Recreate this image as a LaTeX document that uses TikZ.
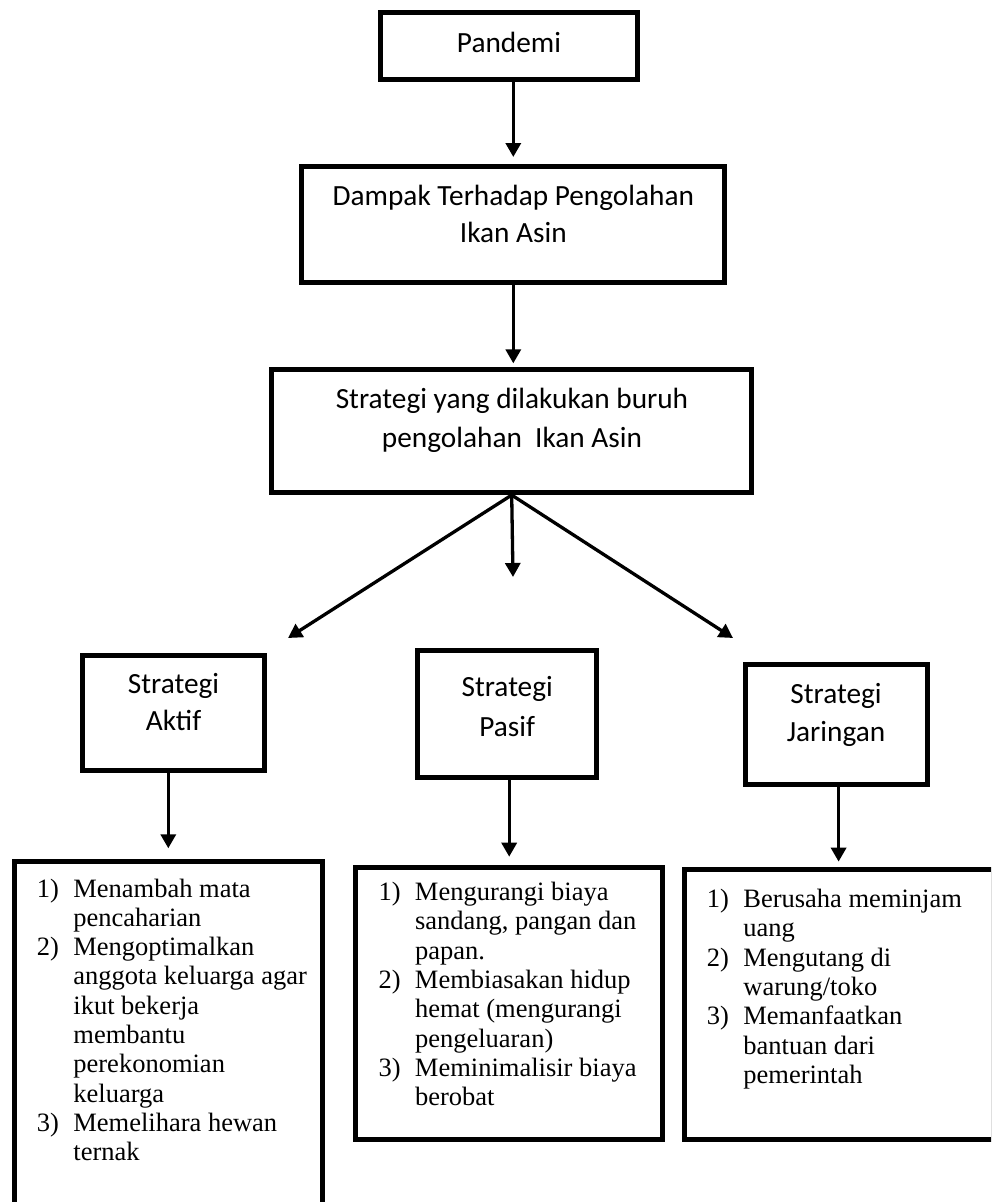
\documentclass[tikz,border=0pt]{standalone}
\usepackage{fontspec}
\setmainfont{Liberation Serif}
\newfontfamily\calfont{Carlito}
\usetikzlibrary{arrows.meta}
\newcommand{\li}[2]{\makebox[36.5pt][l]{#1}#2}
\newcommand{\lc}[1]{\hspace*{36.5pt}#1}
\begin{document}
\begin{tikzpicture}[x=1pt,y=-1pt,
  frame/.style={draw=black, line width=5pt, inner sep=0pt},
  arr/.style={line width=3.3pt, -{Triangle[length=14pt,width=15pt]}},
  sans/.style={anchor=base, inner sep=0pt, font=\calfont\fontsize{29.3}{37}\selectfont},
  serif/.style={anchor=base west, inner sep=0pt, font=\fontsize{26.5}{29.3}\selectfont}]
\clip (0,0) rectangle (991,1202);
\fill[white] (0,0) rectangle (991,1202);

% frames
\node[frame, minimum width=257pt, minimum height=67pt] (pandemi) at (509,46) {};
\node[frame, minimum width=423pt, minimum height=116pt] (dampak) at (513.3,224.5) {};
\node[frame, minimum width=480pt, minimum height=122.7pt] (strategi) at (511.7,431.2) {};
\node[frame, minimum width=181.7pt, minimum height=114.4pt] (aktif) at (173.3,713) {};
\node[frame, minimum width=179.3pt, minimum height=127pt] (pasif) at (507.2,714) {};
\node[frame, minimum width=182.3pt, minimum height=120pt] (jaringan) at (836.3,724.2) {};
\node[frame, minimum width=308.3pt, minimum height=368.2pt] (aktiflist) at (168.3,1045.9) {};
\node[frame, minimum width=306.7pt, minimum height=272pt] (pasiflist) at (509.2,1003.5) {};
\node[frame, minimum width=308.8pt, minimum height=270.3pt] (jarlist) at (838.6,1004.3) {};

% box texts
\node[sans] (tpandemi) at (509,52) {Pandemi};
\node[sans] (tdampak) at (513.3,205) {\parbox[t]{420pt}{\centering Dampak Terhadap Pengolahan\\Ikan Asin}};
\node[sans] (tstrategi) at (512,408) {\parbox[t]{470pt}{\centering\fontsize{29.3}{39}\selectfont Strategi yang dilakukan buruh\\pengolahan\ \ Ikan Asin}};
\node[sans] (taktif) at (173.5,693.3) {\parbox[t]{175pt}{\centering Strategi\\Aktif}};
\node[sans] (tpasif) at (507.2,696) {\parbox[t]{175pt}{\centering\fontsize{29.3}{40}\selectfont Strategi\\Pasif}};
\node[sans] (tjaringan) at (836,703.3) {\parbox[t]{175pt}{\centering\fontsize{29.3}{38.4}\selectfont Strategi\\Jaringan}};

% list texts
\node[serif] (taktiflist) at (36.7,897) {\parbox[t]{285pt}{%
\li{1)}{Menambah mata}\\
\lc{pencaharian}\\
\li{2)}{Mengoptimalkan}\\
\lc{anggota keluarga agar}\\
\lc{ikut bekerja}\\
\lc{membantu}\\
\lc{perekonomian}\\
\lc{keluarga}\\
\li{3)}{Memelihara hewan}\\
\lc{ternak}}};
\node[serif] (tpasiflist) at (378.3,900.5) {\parbox[t]{285pt}{%
\li{1)}{Mengurangi biaya}\\
\lc{sandang, pangan dan}\\
\lc{papan.}\\
\li{2)}{Membiasakan hidup}\\
\lc{hemat (mengurangi}\\
\lc{pengeluaran)}\\
\li{3)}{Meminimalisir biaya}\\
\lc{berobat}}};
\node[serif] (tjarlist) at (706.7,907.5) {\parbox[t]{285pt}{%
\li{1)}{Berusaha meminjam}\\
\lc{uang}\\
\li{2)}{Mengutang di}\\
\lc{warung/toko}\\
\li{3)}{Memanfaatkan}\\
\lc{bantuan dari}\\
\lc{pemerintah}}};

% arrow ends
\coordinate (tipL) at (288,638);
\coordinate (tipM) at (513,577);
\coordinate (tipR) at (733,638);

% connectors
\draw[arr, shorten >=7pt] (pandemi.south -| dampak.north) -- (dampak.north);
\draw[arr, shorten >=4pt] (dampak.south) -- (dampak.south |- strategi.north);
\draw[arr] (strategi.south) -- (tipL);
\draw[arr] (strategi.south) -- (tipM);
\draw[arr] (strategi.south) -- (tipR);
\draw[arr, shorten >=11pt] (aktif.south -| aktiflist.north) -- (aktiflist.north);
\draw[arr, shorten >=8.3pt] (pasif.south -| pasiflist.north) -- (pasiflist.north);
\draw[arr, shorten >=5pt] (jaringan.south -| jarlist.north) -- (jarlist.north);
\end{tikzpicture}
\end{document}
